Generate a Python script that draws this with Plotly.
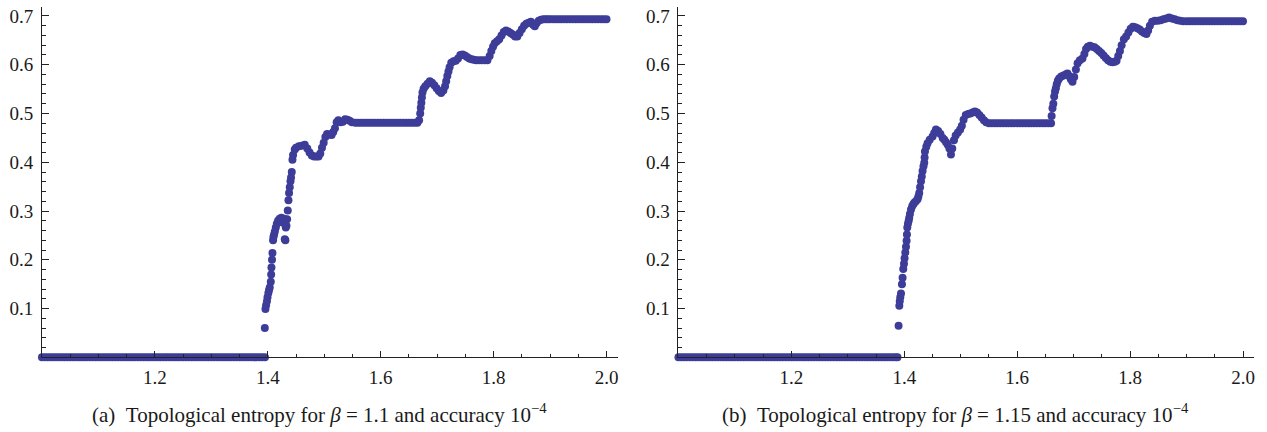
import plotly.graph_objects as go

# ---------------- data: panel (a), beta = 1.1 ----------------
A_ZERO_X = [
    1.000, 1.005, 1.010, 1.015, 1.020, 1.025, 1.030, 1.035, 1.040, 1.045,
    1.050, 1.055, 1.060, 1.065, 1.070, 1.075, 1.080, 1.085, 1.090, 1.095,
    1.100, 1.105, 1.110, 1.115, 1.120, 1.125, 1.130, 1.135, 1.140, 1.145,
    1.150, 1.155, 1.160, 1.165, 1.170, 1.175, 1.180, 1.185, 1.190, 1.195,
    1.200, 1.205, 1.210, 1.215, 1.220, 1.225, 1.230, 1.235, 1.240, 1.245,
    1.250, 1.255, 1.260, 1.265, 1.270, 1.275, 1.280, 1.285, 1.290, 1.295,
    1.300, 1.305, 1.310, 1.315, 1.320, 1.325, 1.330, 1.335, 1.340, 1.345,
    1.350, 1.355, 1.360, 1.365, 1.370, 1.375, 1.380, 1.385, 1.390, 1.395,
]
A_ZERO_Y = [
    0, 0, 0, 0, 0, 0, 0, 0, 0, 0,
    0, 0, 0, 0, 0, 0, 0, 0, 0, 0,
    0, 0, 0, 0, 0, 0, 0, 0, 0, 0,
    0, 0, 0, 0, 0, 0, 0, 0, 0, 0,
    0, 0, 0, 0, 0, 0, 0, 0, 0, 0,
    0, 0, 0, 0, 0, 0, 0, 0, 0, 0,
    0, 0, 0, 0, 0, 0, 0, 0, 0, 0,
    0, 0, 0, 0, 0, 0, 0, 0, 0, 0,
]
A_RISE_X = [
    1.3947, 1.3959, 1.3970, 1.3985, 1.3995, 1.4010, 1.4023, 1.4035, 1.4053, 1.4060,
    1.4065, 1.4075, 1.4083, 1.4094, 1.4100, 1.4112, 1.4125, 1.4142, 1.4160, 1.4182,
    1.4210, 1.4242, 1.4260, 1.4271, 1.4290, 1.4301, 1.4312, 1.4319, 1.4331, 1.4342,
    1.4354, 1.4366, 1.4377, 1.4389, 1.4402, 1.4412, 1.4425, 1.4437, 1.4448, 1.4478,
]
A_RISE_Y = [
    0.060, 0.099, 0.107, 0.115, 0.123, 0.132, 0.138, 0.143, 0.155, 0.170,
    0.184, 0.200, 0.214, 0.240, 0.247, 0.252, 0.258, 0.266, 0.274, 0.280,
    0.284, 0.286, 0.278, 0.276, 0.284, 0.242, 0.240, 0.266, 0.270, 0.283,
    0.301, 0.322, 0.337, 0.349, 0.361, 0.369, 0.380, 0.405, 0.415, 0.426,
]
A_MID_X = [
    1.450, 1.455, 1.460, 1.4655, 1.470, 1.474, 1.478, 1.482, 1.486, 1.490,
    1.493, 1.496, 1.499, 1.502, 1.505, 1.509, 1.513, 1.516, 1.519, 1.522,
    1.525, 1.529, 1.533, 1.537, 1.541, 1.545, 1.549,
]
A_MID_Y = [
    0.430, 0.433, 0.434, 0.436, 0.428, 0.420, 0.414, 0.412, 0.412, 0.412,
    0.418, 0.430, 0.440, 0.452, 0.458, 0.457, 0.456, 0.462, 0.470, 0.482,
    0.486, 0.482, 0.483, 0.488, 0.487, 0.485, 0.482,
]
A_PLAT_X = [
    1.555, 1.560, 1.565, 1.570, 1.575, 1.580, 1.585, 1.590, 1.595, 1.600,
    1.605, 1.610, 1.615, 1.620, 1.625, 1.630, 1.635, 1.640, 1.645, 1.650,
    1.655, 1.660, 1.665,
]
A_PLAT_Y = [
    0.481, 0.481, 0.481, 0.481, 0.481, 0.481, 0.481, 0.481, 0.481, 0.481,
    0.481, 0.481, 0.481, 0.481, 0.481, 0.481, 0.481, 0.481, 0.481, 0.481,
    0.481, 0.481, 0.481,
]
A_UP_X = [
    1.668, 1.670, 1.671, 1.672, 1.673, 1.674, 1.676, 1.679, 1.683, 1.687,
    1.691, 1.695, 1.699, 1.703, 1.707, 1.711, 1.714, 1.716, 1.718, 1.720,
    1.722, 1.725, 1.729, 1.733, 1.737, 1.741, 1.745, 1.749, 1.753, 1.757,
    1.761, 1.765, 1.769, 1.774, 1.779, 1.784, 1.789, 1.793, 1.796, 1.799,
    1.802, 1.806, 1.810, 1.814, 1.818, 1.822, 1.826, 1.830, 1.834, 1.838,
    1.842, 1.846, 1.850, 1.854, 1.858, 1.862, 1.866, 1.870, 1.873, 1.876,
    1.880, 1.884, 1.888, 1.892, 1.896,
]
A_UP_Y = [
    0.486, 0.500, 0.512, 0.522, 0.533, 0.543, 0.551, 0.556, 0.561, 0.566,
    0.563, 0.558, 0.552, 0.546, 0.542, 0.547, 0.556, 0.566, 0.577, 0.586,
    0.595, 0.604, 0.607, 0.608, 0.613, 0.620, 0.621, 0.619, 0.616, 0.613,
    0.611, 0.610, 0.609, 0.609, 0.609, 0.609, 0.609, 0.618, 0.628, 0.637,
    0.644, 0.648, 0.652, 0.660, 0.667, 0.670, 0.668, 0.665, 0.662, 0.658,
    0.658, 0.665, 0.673, 0.680, 0.684, 0.686, 0.688, 0.682, 0.679, 0.685,
    0.690, 0.692, 0.693, 0.693, 0.693,
]
A_TOP_X = [
    1.900, 1.905, 1.910, 1.915, 1.920, 1.925, 1.930, 1.935, 1.940, 1.945,
    1.950, 1.955, 1.960, 1.965, 1.970, 1.975, 1.980, 1.985, 1.990, 1.995,
    2.000,
]
A_TOP_Y = [
    0.693, 0.693, 0.693, 0.693, 0.693, 0.693, 0.693, 0.693, 0.693, 0.693,
    0.693, 0.693, 0.693, 0.693, 0.693, 0.693, 0.693, 0.693, 0.693, 0.693,
    0.693,
]

# ---------------- data: panel (b), beta = 1.15 ----------------
B_ZERO_X = [
    1.000, 1.005, 1.010, 1.015, 1.020, 1.025, 1.030, 1.035, 1.040, 1.045,
    1.050, 1.055, 1.060, 1.065, 1.070, 1.075, 1.080, 1.085, 1.090, 1.095,
    1.100, 1.105, 1.110, 1.115, 1.120, 1.125, 1.130, 1.135, 1.140, 1.145,
    1.150, 1.155, 1.160, 1.165, 1.170, 1.175, 1.180, 1.185, 1.190, 1.195,
    1.200, 1.205, 1.210, 1.215, 1.220, 1.225, 1.230, 1.235, 1.240, 1.245,
    1.250, 1.255, 1.260, 1.265, 1.270, 1.275, 1.280, 1.285, 1.290, 1.295,
    1.300, 1.305, 1.310, 1.315, 1.320, 1.325, 1.330, 1.335, 1.340, 1.345,
    1.350, 1.355, 1.360, 1.365, 1.370, 1.375, 1.380, 1.385, 1.388,
]
B_ZERO_Y = [
    0, 0, 0, 0, 0, 0, 0, 0, 0, 0,
    0, 0, 0, 0, 0, 0, 0, 0, 0, 0,
    0, 0, 0, 0, 0, 0, 0, 0, 0, 0,
    0, 0, 0, 0, 0, 0, 0, 0, 0, 0,
    0, 0, 0, 0, 0, 0, 0, 0, 0, 0,
    0, 0, 0, 0, 0, 0, 0, 0, 0, 0,
    0, 0, 0, 0, 0, 0, 0, 0, 0, 0,
    0, 0, 0, 0, 0, 0, 0, 0, 0,
]
B_RISE_X = [
    1.3899, 1.3912, 1.3920, 1.3929, 1.3942, 1.3959, 1.3970, 1.3982, 1.3995, 1.4005,
    1.4018, 1.4030, 1.4041, 1.4047, 1.4053, 1.4065, 1.4078, 1.4088, 1.4100, 1.4119,
    1.4140, 1.4160, 1.4177, 1.4205, 1.4235, 1.4250, 1.4265, 1.4280, 1.4296, 1.4310,
    1.4324, 1.4340, 1.4354, 1.4360, 1.4366, 1.4390, 1.4412, 1.4450, 1.4501, 1.4530,
    1.4561,
]
B_RISE_Y = [
    0.065, 0.106, 0.115, 0.123, 0.131, 0.150, 0.163, 0.181, 0.192, 0.203,
    0.215, 0.227, 0.239, 0.252, 0.266, 0.274, 0.280, 0.286, 0.294, 0.303,
    0.310, 0.314, 0.317, 0.320, 0.324, 0.330, 0.337, 0.349, 0.361, 0.371,
    0.382, 0.392, 0.399, 0.410, 0.422, 0.432, 0.439, 0.446, 0.453, 0.460,
    0.467,
]
B_MID_X = [
    1.460, 1.464, 1.468, 1.471, 1.474, 1.477, 1.480, 1.4827, 1.485, 1.488,
    1.491, 1.495, 1.499, 1.502, 1.505, 1.509, 1.513, 1.517, 1.521, 1.525,
    1.529, 1.533, 1.537, 1.541, 1.545,
]
B_MID_Y = [
    0.464, 0.458, 0.450, 0.446, 0.441, 0.436, 0.428, 0.416, 0.428, 0.445,
    0.455, 0.461, 0.467, 0.475, 0.487, 0.497, 0.499, 0.500, 0.502, 0.504,
    0.502, 0.497, 0.492, 0.486, 0.482,
]
B_PLAT_X = [
    1.550, 1.555, 1.560, 1.565, 1.570, 1.575, 1.580, 1.585, 1.590, 1.595,
    1.600, 1.605, 1.610, 1.615, 1.620, 1.625, 1.630, 1.635, 1.640, 1.645,
    1.650, 1.655, 1.660,
]
B_PLAT_Y = [
    0.480, 0.480, 0.480, 0.480, 0.480, 0.480, 0.480, 0.480, 0.480, 0.480,
    0.480, 0.480, 0.480, 0.480, 0.480, 0.480, 0.480, 0.480, 0.480, 0.480,
    0.480, 0.480, 0.480,
]
B_UP_X = [
    1.6610, 1.6625, 1.6640, 1.6655, 1.6670, 1.6685, 1.6700, 1.6720, 1.6743, 1.678,
    1.682, 1.686, 1.689, 1.692, 1.695, 1.698, 1.701, 1.704, 1.707, 1.711,
    1.7156, 1.719, 1.722, 1.725, 1.729, 1.733, 1.737, 1.741, 1.745, 1.749,
    1.753, 1.757, 1.761, 1.765, 1.769, 1.773, 1.776, 1.779, 1.782, 1.785,
    1.789, 1.793, 1.797, 1.801, 1.805, 1.809, 1.813, 1.817, 1.821, 1.825,
    1.829, 1.832, 1.835, 1.839, 1.844, 1.849, 1.854, 1.859, 1.864, 1.869,
    1.874, 1.879, 1.884, 1.889, 1.894,
]
B_UP_Y = [
    0.495, 0.511, 0.520, 0.535, 0.545, 0.552, 0.560, 0.567, 0.572, 0.576,
    0.578, 0.580, 0.582, 0.577, 0.570, 0.565, 0.575, 0.590, 0.603, 0.609,
    0.613, 0.622, 0.632, 0.637, 0.639, 0.637, 0.636, 0.632, 0.628, 0.624,
    0.619, 0.614, 0.609, 0.606, 0.605, 0.606, 0.608, 0.618, 0.628, 0.640,
    0.652, 0.658, 0.666, 0.674, 0.678, 0.677, 0.675, 0.672, 0.668, 0.665,
    0.663, 0.670, 0.680, 0.688, 0.690, 0.690, 0.691, 0.693, 0.695, 0.697,
    0.695, 0.693, 0.691, 0.690, 0.689,
]
B_TOP_X = [
    1.900, 1.905, 1.910, 1.915, 1.920, 1.925, 1.930, 1.935, 1.940, 1.945,
    1.950, 1.955, 1.960, 1.965, 1.970, 1.975, 1.980, 1.985, 1.990, 1.995,
    2.000,
]
B_TOP_Y = [
    0.689, 0.689, 0.689, 0.689, 0.689, 0.689, 0.689, 0.689, 0.689, 0.689,
    0.689, 0.689, 0.689, 0.689, 0.689, 0.689, 0.689, 0.689, 0.689, 0.689,
    0.689,
]

X_TICKS = [1.2, 1.4, 1.6, 1.8, 2.0]
X_TICK_TEXT = ["1.2", "1.4", "1.6", "1.8", "2.0"]
Y_TICKS = [0.1, 0.2, 0.3, 0.4, 0.5, 0.6, 0.7]
Y_TICK_TEXT = ["0.1", "0.2", "0.3", "0.4", "0.5", "0.6", "0.7"]
CAPTION_A = "(a)\u00a0\u00a0Topological entropy for <i>β</i> = 1.1 and accuracy 10<sup>−4</sup>"
CAPTION_B = "(b)\u00a0\u00a0Topological entropy for <i>β</i> = 1.15 and accuracy 10<sup>−4</sup>"

# ---------------- figure ----------------
W, H = 1267, 432
BLUE = "rgb(61,61,153)"
AXC = "#222222"
FONT = "'Liberation Serif', 'DejaVu Serif', 'Times New Roman', serif"

ax_x = A_ZERO_X + A_RISE_X + A_MID_X + A_PLAT_X + A_UP_X + A_TOP_X
ax_y = A_ZERO_Y + A_RISE_Y + A_MID_Y + A_PLAT_Y + A_UP_Y + A_TOP_Y
bx_x = B_ZERO_X + B_RISE_X + B_MID_X + B_PLAT_X + B_UP_X + B_TOP_X
bx_y = B_ZERO_Y + B_RISE_Y + B_MID_Y + B_PLAT_Y + B_UP_Y + B_TOP_Y

fig = go.Figure()
fig.add_trace(go.Scatter(x=ax_x, y=ax_y, mode="markers", xaxis="x", yaxis="y",
                         marker=dict(size=8, color=BLUE, line=dict(width=0)),
                         cliponaxis=False, showlegend=False, hoverinfo="skip"))
fig.add_trace(go.Scatter(x=bx_x, y=bx_y, mode="markers", xaxis="x2", yaxis="y2",
                         marker=dict(size=8, color=BLUE, line=dict(width=0)),
                         cliponaxis=False, showlegend=False, hoverinfo="skip"))

X_RANGE = [1.0, 2.0195]
Y_RANGE = [0.0, 0.718]
y_bottom_px, y_top_px = 357, 5.2
ydom = [1 - y_bottom_px / H, 1 - y_top_px / H]


def xaxis_cfg(dom, anchor):
    return dict(domain=dom, anchor=anchor, range=X_RANGE, showline=True,
                linecolor=AXC, linewidth=1, showgrid=False, zeroline=False,
                tickmode="array", tickvals=X_TICKS, ticktext=X_TICK_TEXT,
                ticks="inside", ticklen=6, tickwidth=1, tickcolor=AXC,
                ticklabelstandoff=3,
                tickfont=dict(family=FONT, size=19, color="#1a1a1a"),
                minor=dict(ticks="inside", ticklen=3.5, tickwidth=1, tickcolor=AXC,
                           tickmode="linear", tick0=1.0, dtick=0.05, showgrid=False),
                fixedrange=True)


def yaxis_cfg(anchor):
    return dict(domain=ydom, anchor=anchor, range=Y_RANGE, showline=True,
                linecolor=AXC, linewidth=1, showgrid=False, zeroline=False,
                tickmode="array", tickvals=Y_TICKS, ticktext=Y_TICK_TEXT,
                ticks="inside", ticklen=7, tickwidth=1, tickcolor=AXC,
                ticklabelstandoff=4,
                tickfont=dict(family=FONT, size=19, color="#1a1a1a"),
                minor=dict(ticks="inside", ticklen=4, tickwidth=1, tickcolor=AXC,
                           tickmode="linear", tick0=0.0, dtick=0.02, showgrid=False),
                fixedrange=True)


shapes = []
for xr, yr in (("x", "y"), ("x2", "y2")):
    shapes.append(dict(type="line", xref=xr, yref=yr, x0=0.9805, x1=1.0, y0=0, y1=0,
                       line=dict(color=AXC, width=1)))
    shapes.append(dict(type="line", xref=xr, yref=yr, x0=1.0, x1=1.0, y0=-0.0224, y1=0,
                       line=dict(color=AXC, width=1)))

fig.update_layout(
    width=W, height=H, margin=dict(l=0, r=0, t=0, b=0),
    paper_bgcolor="white", plot_bgcolor="white",
    font=dict(family=FONT),
    xaxis=xaxis_cfg([42 / W, 618 / W], "y"),
    yaxis=yaxis_cfg("x"),
    xaxis2=xaxis_cfg([679 / W, 1255 / W], "y2"),
    yaxis2=yaxis_cfg("x2"),
    shapes=shapes,
    annotations=[
        dict(text=CAPTION_A, x=320 / W, y=1 - 413 / H, xref="paper", yref="paper",
             showarrow=False, xanchor="center", yanchor="middle",
             font=dict(family=FONT, size=21, color="#1a1a1a")),
        dict(text=CAPTION_B, x=956 / W, y=1 - 413 / H, xref="paper", yref="paper",
             showarrow=False, xanchor="center", yanchor="middle",
             font=dict(family=FONT, size=21, color="#1a1a1a")),
    ],
)

fig.write_html("out.html")
